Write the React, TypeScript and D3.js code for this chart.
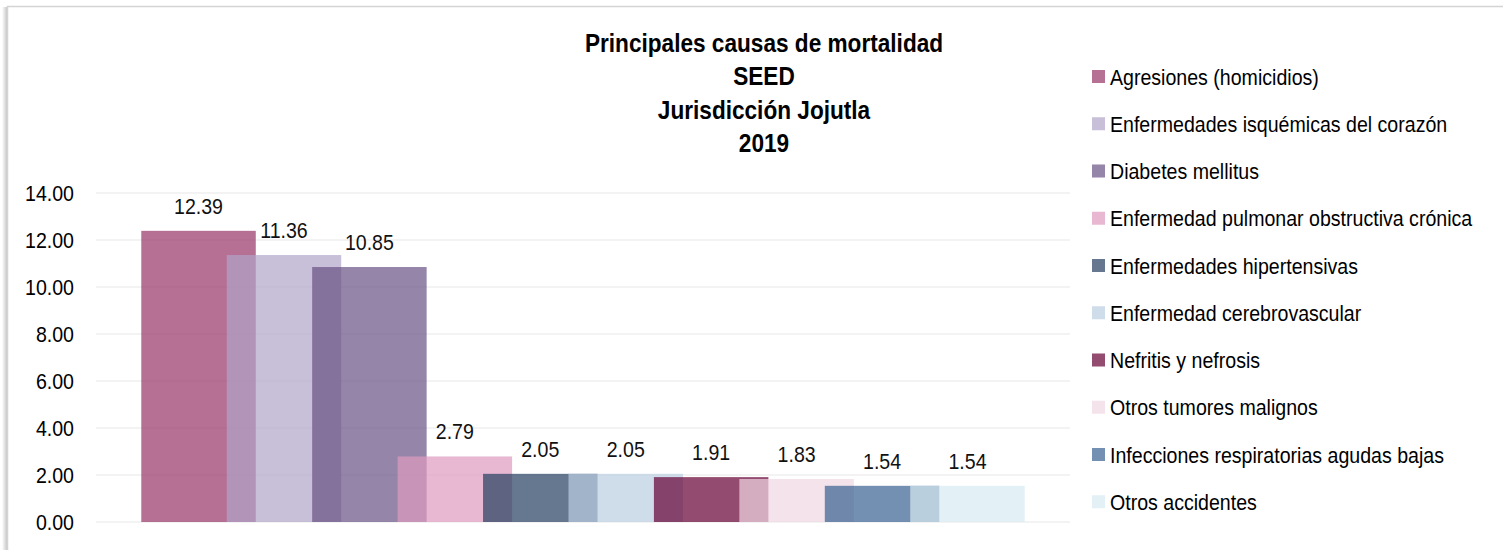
import { useEffect, useRef } from 'react';
import * as d3 from 'd3';

const categories = [
  'Agresiones (homicidios)',
  'Enfermedades isquémicas del corazón',
  'Diabetes mellitus',
  'Enfermedad pulmonar obstructiva crónica',
  'Enfermedades hipertensivas',
  'Enfermedad cerebrovascular',
  'Nefritis y nefrosis',
  'Otros tumores malignos',
  'Infecciones respiratorias agudas bajas',
  'Otros accidentes',
];

const values = [12.39, 11.36, 10.85, 2.79, 2.05, 2.05, 1.91, 1.83, 1.54, 1.54];

const colors = [
  '#953365', '#b0a4c7', '#685183', '#de9abf', '#243e5f',
  '#bacde1', '#650033', '#f1d7e2', '#375f91', '#d7eaf1',
];

const yTicks = [0, 2, 4, 6, 8, 10, 12, 14];

const titleLines = ['Principales causas de mortalidad', 'SEED', 'Jurisdicción Jojutla', '2019'];

// no narrow face is installed, so Liberation Sans is squeezed horizontally
const FONT = '"Liberation Sans", Arial, sans-serif';

export default function App() {
  const ref = useRef<SVGSVGElement>(null);

  useEffect(() => {
    if (!ref.current) return;
    const width = 1503;
    const height = 550;
    const svg = d3.select(ref.current);
    svg.selectAll('*').remove();

    const plot = { left: 96, right: 1070, top: 193, bottom: 522 };

    const label = (
      parent: d3.Selection<any, any, any, any>,
      px: number,
      py: number,
      str: string,
      anchor: string,
      size: number,
      squeeze = 0.89,
      weight = 'normal',
      fill = '#000',
    ) =>
      parent.append('text')
        .attr('transform', `translate(${px},${py}) scale(${squeeze},1)`)
        .attr('text-anchor', anchor)
        .style('font-family', FONT)
        .style('font-size', `${size}px`)
        .style('font-weight', weight)
        .style('fill', fill)
        .text(str);

    // frame with a soft shadow on the left
    const defs = svg.append('defs');
    const shadow = defs.append('linearGradient').attr('id', 'leftShadow');
    shadow.append('stop').attr('offset', '0%').attr('stop-color', '#ffffff');
    shadow.append('stop').attr('offset', '100%').attr('stop-color', '#c8c8c8');
    svg.append('rect').attr('x', 2).attr('y', 7).attr('width', 5).attr('height', height)
      .attr('fill', 'url(#leftShadow)');
    svg.append('rect')
      .attr('x', 7.5).attr('y', 6.5)
      .attr('width', width + 20).attr('height', height + 20)
      .attr('fill', '#fff')
      .attr('stroke', '#d4d4d4')
      .attr('stroke-width', 1.5);

    const x = d3.scaleBand<string>()
      .domain(categories)
      .range([plot.left, plot.right])
      .paddingInner(0)
      .paddingOuter(0.7);
    const barW = x.bandwidth() * 1.34;

    const y = d3.scaleLinear().domain([0, 14]).range([plot.bottom, plot.top]);

    // gridlines
    svg.append('g')
      .selectAll('line')
      .data(yTicks)
      .join('line')
      .attr('x1', plot.left).attr('x2', plot.right)
      .attr('y1', (d) => y(d)).attr('y2', (d) => y(d))
      .attr('stroke', '#efefef')
      .attr('stroke-width', 1.5);

    // y tick labels
    const yAxis = svg.append('g');
    yTicks.forEach((t) => label(yAxis, 74, y(t) + 8, t.toFixed(2), 'end', 22));

    // bars
    const bars = svg.append('g');
    categories.forEach((c, i) => {
      const cx = (x(c) as number) + x.bandwidth() / 2;
      bars.append('rect')
        .attr('x', cx - barW / 2)
        .attr('y', y(values[i]))
        .attr('width', barW)
        .attr('height', y(0) - y(values[i]))
        .attr('fill', colors[i])
        .attr('fill-opacity', 0.7);
    });
    categories.forEach((c, i) => {
      const cx = (x(c) as number) + x.bandwidth() / 2;
      label(bars, cx, y(values[i]) - 17, values[i].toFixed(2), 'middle', 22, 0.89, 'normal', '#111');
    });

    // title
    const title = svg.append('g');
    titleLines.forEach((t, i) => {
      label(title, 764, 52 + i * 33.3, t, 'middle', 26, 0.87, 'bold');
    });

    // legend
    const legend = svg.append('g');
    categories.forEach((c, i) => {
      const cy = 76.5 + i * 47.25;
      legend.append('rect')
        .attr('x', 1092).attr('y', cy - 6.5)
        .attr('width', 13).attr('height', 13)
        .attr('fill', colors[i])
        .attr('fill-opacity', 0.7);
      label(legend, 1110, cy + 8, c, 'start', 22);
    });
  }, []);

  return (
    <svg
      ref={ref}
      width={1503}
      height={550}
      style={{ position: 'absolute', left: 0, top: 0, display: 'block' }}
    />
  );
}
